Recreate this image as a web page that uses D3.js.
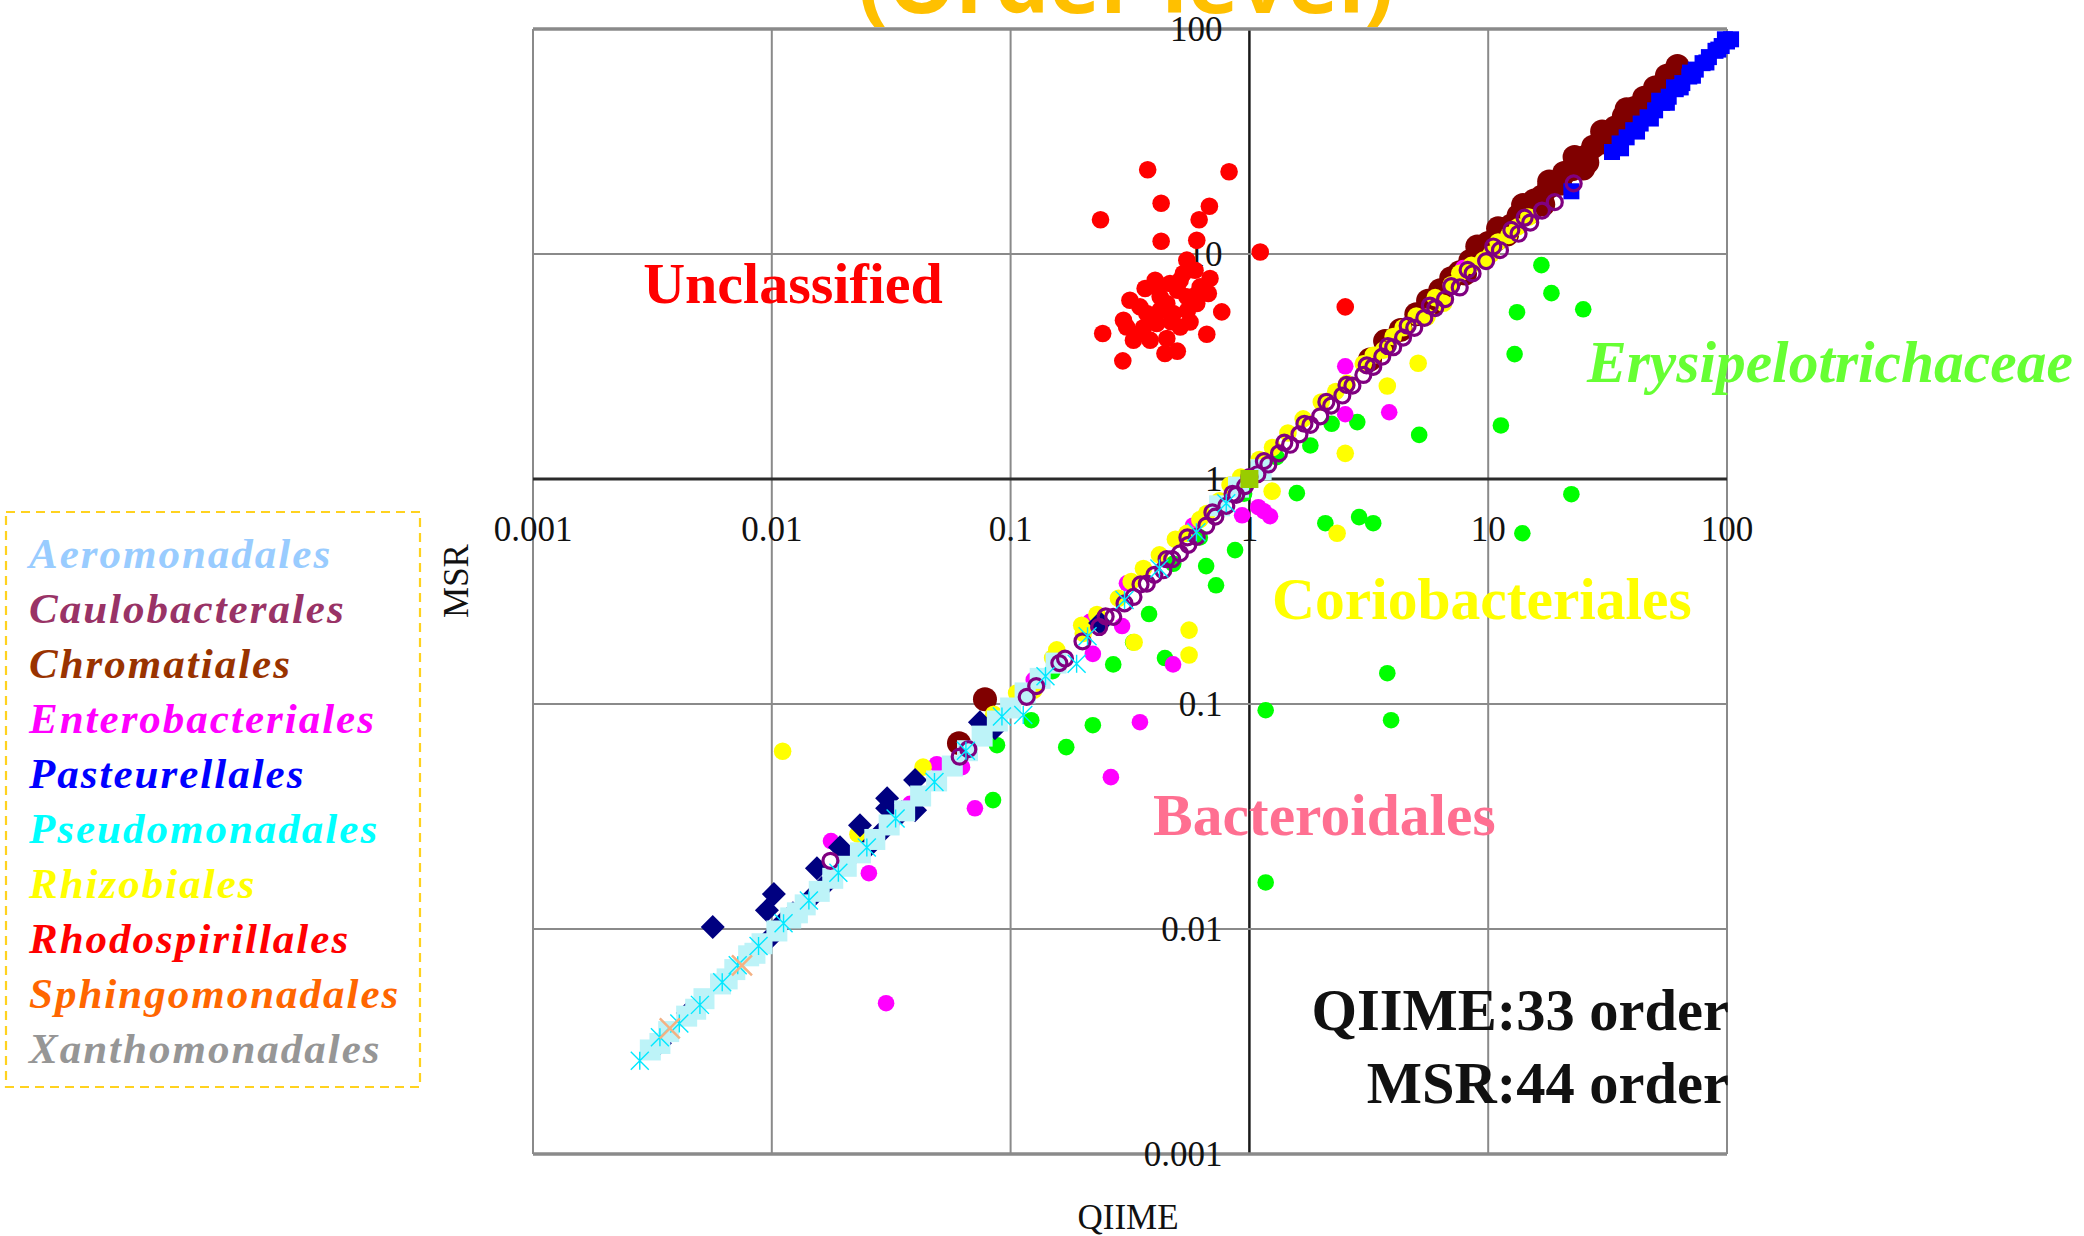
<!DOCTYPE html>
<html>
<head>
<meta charset="utf-8">
<script src="https://cdn.jsdelivr.net/npm/d3@7"></script>
<style>
  html, body { margin: 0; padding: 0; background: #ffffff; }
  svg { display: block; }
</style>
</head>
<body>
<svg id="chart" width="2084" height="1236"></svg>
<script>
// ---- axis ticks ----
const tickValues = [0.001, 0.01, 0.1, 1, 10, 100];
const tickLabels = ["0.001", "0.01", "0.1", "1", "10", "100"];

// ---- legend ----
const legendNames = ["Aeromonadales", "Caulobacterales", "Chromatiales", "Enterobacteriales",
  "Pasteurellales", "Pseudomonadales", "Rhizobiales", "Rhodospirillales",
  "Sphingomonadales", "Xanthomonadales"];
const legendColors = ["#99ccff", "#993366", "#993300", "#ff00ff", "#0000ff",
  "#00ffff", "#ffff00", "#ff0000", "#ff6600", "#969696"];

// ---- series: [QIIME, MSR] relative abundance ----
const unclassified = [
  [0.375, 23.7], [0.822, 23.2], [0.427, 16.8], [0.680, 16.3], [0.238, 14.2], [0.616, 14.2],
  [0.427, 11.4], [0.602, 11.5], [1.11, 10.2], [0.547, 9.39], [0.684, 7.78], [0.403, 7.65],
  [0.366, 7.03], [0.513, 7.65], [0.592, 8.47], [0.316, 6.23], [0.673, 6.67], [0.766, 5.53],
  [0.564, 4.99], [0.451, 6.03], [0.372, 5.44], [0.480, 5.44], [0.409, 4.91], [0.306, 4.74],
  [0.243, 4.43], [0.663, 4.40], [0.327, 4.14], [0.384, 4.14], [0.451, 4.21], [0.443, 3.61],
  [0.499, 3.70], [0.295, 3.35], [0.602, 6.03], [0.547, 6.45], [0.423, 6.45], [0.348, 5.82],
  [0.513, 4.74], [0.348, 4.43], [0.409, 7.14], [0.465, 7.39], [0.622, 7.14], [0.529, 8.19],
  [0.423, 5.63], [0.297, 5.08], [2.52, 5.82], [0.47, 5.0], [0.55, 5.6], [0.39, 5.2],
  [0.60, 6.6], [0.36, 4.7], [0.50, 6.9], [0.44, 5.9]
];
const erysipelotrichaceae = [
  [16.7, 8.92], [18.4, 6.70], [13.2, 5.51], [25.0, 5.68], [12.9, 3.59], [11.3, 1.73],
  [5.14, 1.57], [2.83, 1.79], [2.21, 1.76], [1.80, 1.41], [1.58, 0.865], [2.08, 0.636],
  [2.88, 0.677], [3.30, 0.636], [22.3, 0.856], [13.9, 0.574], [0.871, 0.483], [0.659, 0.410],
  [0.725, 0.337], [0.380, 0.251], [0.269, 0.150], [0.443, 0.160], [0.326, 0.188],
  [0.221, 0.0805], [0.171, 0.0643], [0.122, 0.0847], [0.0877, 0.0656], [0.0844, 0.0374],
  [1.17, 0.0938], [3.92, 0.0847], [3.78, 0.137], [1.17, 0.0161], [1.30, 1.25], [0.48, 0.42],
  [0.62, 0.55], [0.15, 0.14], [0.95, 0.86]
];
const bacteroidales = [
  [2.52, 3.17], [3.85, 1.98], [2.52, 1.94], [1.15, 0.719], [1.09, 0.749], [1.22, 0.683],
  [0.932, 0.690], [0.348, 0.083], [0.263, 0.0473], [0.479, 0.150], [0.293, 0.222],
  [0.221, 0.167], [0.307, 0.344], [0.0886, 0.0805], [0.0491, 0.054], [0.0709, 0.0344],
  [0.0177, 0.0246], [0.0255, 0.0177], [0.0135, 0.0125], [0.0301, 0.00468], [0.0626, 0.0524],
  [7.86, 8.65], [1.14, 1.21], [0.125, 0.128], [0.215, 0.232], [0.58, 0.62], [0.0322, 0.0305],
  [0.0208, 0.0196], [0.038, 0.036]
];
const coriobacteriales = [
  [0.0111, 0.0617], [0.02295, 0.0264], [0.0265, 0.0246], [0.043, 0.0524], [0.125, 0.115],
  [0.156, 0.174], [0.1985, 0.224], [0.2015, 0.206], [0.283, 0.295], [0.36, 0.40],
  [0.42, 0.46], [0.49, 0.54], [0.547, 0.573], [0.663, 0.703], [0.83, 0.94], [0.92, 1.02],
  [1.25, 1.38], [1.45, 1.6], [1.68, 1.85], [2.0, 2.2], [2.3, 2.45], [2.56, 2.66],
  [3.0, 3.25], [3.64, 3.74], [4.4, 4.7], [5.54, 5.25], [6.5, 6.04], [7.6, 8.2],
  [8.5, 8.9], [9.55, 9.39], [10.3, 10.0], [12.2, 12.1], [14.8, 14.6],
  [0.15, 0.16], [0.23, 0.25], [0.32, 0.35], [0.62, 0.66], [0.75, 0.8], [1.1, 1.22],
  [3.3, 3.55], [4.0, 4.3], [5.0, 5.3], [6.0, 6.4], [7.0, 7.3], [11.0, 11.3], [13.3, 13.2],
  [0.106, 0.112], [0.085, 0.09],
  [5.09, 3.27], [3.78, 2.59], [2.52, 1.30], [1.245, 0.883], [2.33, 0.574],
  [0.559, 0.213], [0.559, 0.165], [0.329, 0.188]
];
const chromatiales = [
  [0.0608, 0.0670], [0.0781, 0.105],
  [3.2, 3.4], [3.7, 4.1], [4.3, 4.6], [5.0, 5.4], [5.6, 6.2], [6.0, 6.1], [6.3, 6.9],
  [7.0, 7.8], [7.6, 8.3], [8.0, 8.2], [8.4, 9.3], [9.2, 10.1], [9.0, 10.8], [10.0, 11.2],
  [10.8, 11.6], [11.0, 13.0], [11.6, 12.9], [12.0, 12.2], [12.5, 13.4], [13.4, 14.8],
  [14.0, 16.5], [14.5, 15.6], [15.0, 15.4], [15.6, 17.3], [16.8, 18.0], [17.0, 16.6],
  [18.0, 19.9], [18.0, 21.0], [19.4, 20.6], [20.0, 20.5], [20.8, 22.9], [22.4, 23.8],
  [23.0, 27.0], [24.0, 26.3], [25.0, 24.0], [25.8, 27.2], [26.0, 25.5], [27.5, 30.0],
  [29.5, 31.2], [30.0, 35.0], [31.5, 34.4], [33.0, 33.5], [34.0, 36.5], [37.0, 41.0],
  [38.0, 44.0], [40.0, 41.0], [41.0, 44.5], [45.0, 46.0], [45.0, 49.5], [48.0, 50.0],
  [50.0, 55.0], [55.0, 58.0], [56.0, 62.0], [62.0, 68.5]
];
const pasteurellalesTop = [
  [22.3, 19.0], [33, 28.4], [35.5, 31], [36, 29.5], [38, 33], [40.5, 35.5], [42, 35],
  [43.5, 38], [46.5, 40.5], [48, 40], [50, 43.5], [52, 48], [53.5, 47], [56, 47], [57, 50],
  [60, 55], [61, 54], [64, 55], [65, 57.5], [69.5, 61.5], [70, 64], [72, 62], [74, 66],
  [79, 70.5], [82, 71], [84, 75], [89.5, 80], [92, 81], [95, 84], [98, 90], [100, 88],
  [104, 90]
];
const caulobacterales = [
  [0.0176, 0.0201], [0.0612, 0.0583], [0.0665, 0.063], [0.1168, 0.1075], [0.128, 0.12],
  [0.160, 0.152], [0.169, 0.159], [0.20, 0.19], [0.235, 0.22], [0.269, 0.244], [0.30, 0.28],
  [0.327, 0.299], [0.372, 0.343], [0.40, 0.375], [0.436, 0.393], [0.475, 0.44],
  [0.512, 0.467], [0.555, 0.51], [0.602, 0.553], [0.66, 0.62], [0.72, 0.68], [0.80, 0.76],
  [0.88, 0.85], [0.96, 0.93], [1.08, 1.05], [1.2, 1.16], [1.33, 1.3], [1.48, 1.42],
  [1.62, 1.58], [1.8, 1.74], [1.98, 1.9], [2.2, 2.12], [2.45, 2.35], [2.7, 2.6],
  [3.0, 2.9], [3.3, 3.15], [3.6, 3.5], [4.0, 3.85], [4.4, 4.25], [4.9, 4.7], [5.4, 5.2],
  [6.0, 5.75], [6.6, 6.3], [7.6, 7.1], [8.6, 8.2], [9.8, 9.3], [11.2, 10.4], [13.4, 12.3],
  [15.0, 13.8], [16.8, 15.6], [19.0, 17.0], [22.8, 20.6],
  [0.25, 0.245], [0.35, 0.34], [0.45, 0.44], [0.55, 0.55], [0.7, 0.71], [0.85, 0.86],
  [1.0, 1.02], [1.15, 1.2], [1.4, 1.45], [1.7, 1.76], [2.1, 2.2], [2.55, 2.62], [3.1, 3.2],
  [3.8, 3.9], [4.6, 4.8], [5.7, 5.9], [7.0, 7.2], [8.2, 8.5], [10.5, 10.8], [12.5, 12.8],
  [14.2, 14.5]
];
const pasteurellalesLow = [
  [0.0034, 0.00311], [0.00445, 0.00423], [0.00566, 0.0102], [0.00954, 0.0121],
  [0.0102, 0.0143], [0.00963, 0.00892], [0.0111, 0.0107], [0.01226, 0.01175],
  [0.01444, 0.01357], [0.01545, 0.01863], [0.0193, 0.0231], [0.0234, 0.0289],
  [0.0253, 0.0231], [0.0304, 0.0344], [0.0398, 0.0337], [0.0398, 0.0459], [0.0744, 0.083],
  [0.086, 0.0781], [0.237, 0.229], [0.0304, 0.0381], [0.0162, 0.0152], [0.021, 0.0205],
  [0.028, 0.0262], [0.035, 0.033]
];
const aeromonadales = [
  [0.0031, 0.0029], [0.0034, 0.0031], [0.0037, 0.0035], [0.0044, 0.0041], [0.0048, 0.0044],
  [0.0052, 0.0049], [0.0061, 0.0057], [0.0065, 0.006], [0.007, 0.0066], [0.008, 0.0076],
  [0.0085, 0.0078], [0.0091, 0.0086], [0.0105, 0.0098], [0.012, 0.0112], [0.0128, 0.0118],
  [0.0138, 0.0128], [0.0158, 0.0147], [0.018, 0.0168], [0.0205, 0.019], [0.0235, 0.0218],
  [0.027, 0.025], [0.031, 0.029], [0.036, 0.0335], [0.042, 0.039], [0.049, 0.0455],
  [0.057, 0.053], [0.066, 0.062], [0.076, 0.072], [0.088, 0.084], [0.1, 0.096],
  [0.115, 0.112], [0.133, 0.13], [0.155, 0.152], [0.75, 0.76], [0.9, 0.92], [1.12, 1.1]
];
const pseudomonadales = [
  [0.0028, 0.0026], [0.0034, 0.0033], [0.0041, 0.0038], [0.005, 0.0046], [0.0062, 0.0058],
  [0.0072, 0.0069], [0.0088, 0.0084], [0.0112, 0.0106], [0.0143, 0.0134], [0.019, 0.0178],
  [0.025, 0.023], [0.033, 0.031], [0.048, 0.045], [0.065, 0.062], [0.092, 0.088],
  [0.113, 0.0893], [0.14, 0.133], [0.189, 0.151], [0.21, 0.2], [0.3, 0.29], [0.42, 0.4],
  [0.6, 0.58], [0.8, 0.78]
];
const sphingomonadales = [[0.00374, 0.00362], [0.0075, 0.0069]];
const rhodobacterales = [[1.0, 1.0]];

// ---- layout ----
const svg = d3.select("#chart");
const x = d3.scaleLog().domain([0.001, 100]).range([533, 1727]);
const y = d3.scaleLog().domain([0.001, 100]).range([1154, 29]);
const serif = "'Liberation Serif', 'Times New Roman', serif";

// title (partly above the page edge)
svg.append("text")
  .attr("x", 1126).attr("y", 13)
  .attr("text-anchor", "middle")
  .attr("font-family", "'Open Sans', sans-serif")
  .attr("font-weight", 700)
  .attr("font-size", 86)
  .attr("fill", "#ffc000")
  .text("(Order level)");

// grid
const grid = svg.append("g");
grid.selectAll("line.v").data(tickValues).join("line")
  .attr("x1", d => x(d)).attr("x2", d => x(d))
  .attr("y1", y(100)).attr("y2", y(0.001))
  .attr("stroke", d => d === 1 ? "#1a1a1a" : "#8a8a8a")
  .attr("stroke-width", d => d === 1 ? 2.5 : 2);
grid.selectAll("line.h").data(tickValues).join("line")
  .attr("y1", d => y(d)).attr("y2", d => y(d))
  .attr("x1", x(0.001)).attr("x2", x(100))
  .attr("stroke", d => d === 1 ? "#2a2a2a" : "#8a8a8a")
  .attr("stroke-width", d => (d === 1 ? 3 : (d === 100 || d === 0.001 ? 3.5 : 2)));

// tick labels along the axes through (1,1)
const tickFont = 35;
svg.append("g").selectAll("text").data(tickValues).join("text")
  .attr("x", d => x(d)).attr("y", y(1) + 62)
  .attr("text-anchor", "middle")
  .attr("font-family", serif).attr("font-size", tickFont).attr("fill", "#111")
  .text((d, i) => tickLabels[i]);
svg.append("g").selectAll("text").data(tickValues).join("text")
  .attr("x", x(1) - 27).attr("y", d => y(d))
  .attr("text-anchor", "end").attr("dominant-baseline", "central")
  .attr("font-family", serif).attr("font-size", tickFont).attr("fill", "#111")
  .text((d, i) => tickLabels[i]);

// axis titles
svg.append("text").attr("x", 1128).attr("y", 1229)
  .attr("text-anchor", "middle").attr("font-family", serif).attr("font-size", 35)
  .attr("fill", "#111").text("QIIME");
svg.append("text").attr("transform", "translate(468,581) rotate(-90)")
  .attr("text-anchor", "middle").attr("font-family", serif).attr("font-size", 35)
  .attr("fill", "#111").text("MSR");

// ---- markers ----
const plot = svg.append("g");
function excelStar(h) {
  return `M${-h},${-h}L${h},${h}M${-h},${h}L${h},${-h}M0,${-h}L0,${h}`;
}
function excelX(h) {
  return `M${-h},${-h}L${h},${h}M${-h},${h}L${h},${-h}`;
}
const layers = [
  { data: chromatiales, kind: "circle", r: 12, fill: "#800000" },
  { data: pasteurellalesTop, kind: "square", s: 16, fill: "#0000ff" },
  { data: erysipelotrichaceae, kind: "circle", r: 8.3, fill: "#00ff00" },
  { data: bacteroidales, kind: "circle", r: 8.3, fill: "#ff00ff" },
  { data: coriobacteriales, kind: "circle", r: 8.8, fill: "#ffff00" },
  { data: pasteurellalesLow, kind: "diamond", s: 24, fill: "#000080" },
  { data: aeromonadales, kind: "square", s: 21, fill: "#bdf3f8" },
  { data: caulobacterales, kind: "ring", r: 7.5, stroke: "#800080" },
  { data: pseudomonadales, kind: "star", h: 9, stroke: "#00e8ff" },
  { data: sphingomonadales, kind: "cross", h: 10, stroke: "#f4b183" },
  { data: rhodobacterales, kind: "square", s: 18, fill: "#99cc00" },
  { data: unclassified, kind: "circle", r: 8.8, fill: "#ff0000" }
];
layers.forEach(L => {
  const g = plot.append("g");
  const pos = d => `translate(${x(d[0])},${y(d[1])})`;
  if (L.kind === "circle") {
    g.selectAll("circle").data(L.data).join("circle")
      .attr("cx", d => x(d[0])).attr("cy", d => y(d[1])).attr("r", L.r).attr("fill", L.fill);
  } else if (L.kind === "ring") {
    g.selectAll("circle").data(L.data).join("circle")
      .attr("cx", d => x(d[0])).attr("cy", d => y(d[1])).attr("r", L.r)
      .attr("fill", "none").attr("stroke", L.stroke).attr("stroke-width", 3.2);
  } else if (L.kind === "square") {
    g.selectAll("rect").data(L.data).join("rect")
      .attr("x", d => x(d[0]) - L.s / 2).attr("y", d => y(d[1]) - L.s / 2)
      .attr("width", L.s).attr("height", L.s).attr("fill", L.fill);
  } else if (L.kind === "diamond") {
    g.selectAll("rect").data(L.data).join("rect")
      .attr("x", -L.s / 2 / Math.SQRT2).attr("y", -L.s / 2 / Math.SQRT2)
      .attr("width", L.s / Math.SQRT2).attr("height", L.s / Math.SQRT2)
      .attr("transform", d => pos(d) + " rotate(45)").attr("fill", L.fill);
  } else if (L.kind === "star") {
    g.selectAll("path").data(L.data).join("path")
      .attr("d", excelStar(L.h)).attr("transform", pos)
      .attr("fill", "none").attr("stroke", L.stroke).attr("stroke-width", 1.4);
  } else if (L.kind === "cross") {
    g.selectAll("path").data(L.data).join("path")
      .attr("d", excelX(L.h)).attr("transform", pos)
      .attr("fill", "none").attr("stroke", L.stroke).attr("stroke-width", 2.5);
  }
});

// ---- group annotations ----
const notes = [
  { text: "Unclassified", x: 793, y: 303, anchor: "middle", fill: "#ff0000", italic: false, size: 58 },
  { text: "Erysipelotrichaceae", x: 1587, y: 382, anchor: "start", fill: "#66ff33", italic: true, size: 59.5 },
  { text: "Coriobacteriales", x: 1272, y: 619, anchor: "start", fill: "#ffff00", italic: false, size: 59.5 },
  { text: "Bacteroidales", x: 1153, y: 835, anchor: "start", fill: "#ff6f91", italic: false, size: 59.5 },
  { text: "QIIME:33 order", x: 1729, y: 1030, anchor: "end", fill: "#111111", italic: false, size: 58.5 },
  { text: "MSR:44 order", x: 1729, y: 1103, anchor: "end", fill: "#111111", italic: false, size: 58.5 }
];
svg.append("g").selectAll("text").data(notes).join("text")
  .attr("x", d => d.x).attr("y", d => d.y)
  .attr("text-anchor", d => d.anchor)
  .attr("font-family", serif).attr("font-weight", 700)
  .attr("font-style", d => d.italic ? "italic" : "normal")
  .attr("font-size", d => d.size).attr("fill", d => d.fill)
  .text(d => d.text);

// ---- legend box ----
const legend = svg.append("g");
legend.append("rect").attr("x", 6).attr("y", 512).attr("width", 414).attr("height", 575)
  .attr("fill", "none").attr("stroke", "#ffd21f").attr("stroke-width", 2.2)
  .attr("stroke-dasharray", "9,6");
legend.selectAll("text").data(legendNames).join("text")
  .attr("x", 29).attr("y", (d, i) => 568 + i * 55)
  .attr("font-family", serif).attr("font-weight", 700).attr("font-style", "italic")
  .attr("font-size", 43).attr("letter-spacing", 2)
  .attr("fill", (d, i) => legendColors[i])
  .text(d => d);
</script>
</body>
</html>
